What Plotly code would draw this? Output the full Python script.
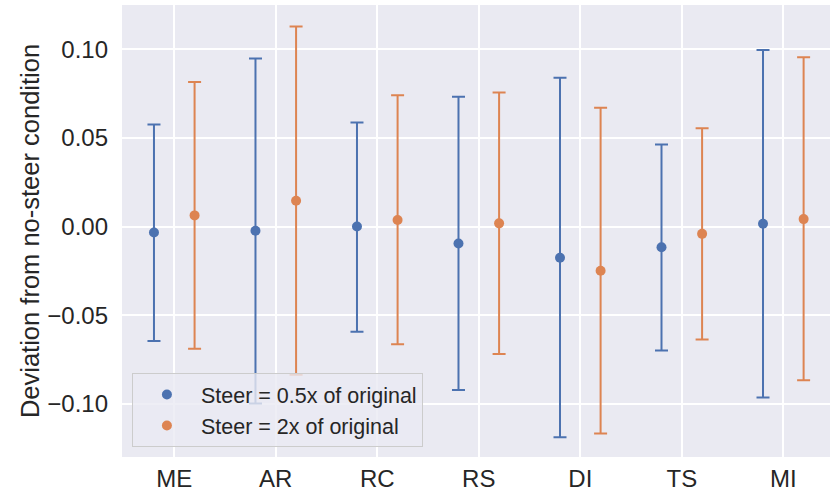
import plotly.graph_objects as go

categories = ["ME", "AR", "RC", "RS", "DI", "TS", "MI"]

half_mean = [-0.0033, -0.0024, 0.0000, -0.0095, -0.0176, -0.0117, 0.0016]
half_hi = [0.0576, 0.0948, 0.0587, 0.0732, 0.0839, 0.0463, 0.0995]
half_lo = [-0.0645, -0.0997, -0.0593, -0.0922, -0.1188, -0.0698, -0.0963]

double_mean = [0.0063, 0.0146, 0.0037, 0.0018, -0.0249, -0.0041, 0.0042]
double_hi = [0.0815, 0.1128, 0.0740, 0.0756, 0.0670, 0.0554, 0.0955]
double_lo = [-0.0689, -0.0835, -0.0664, -0.0719, -0.1166, -0.0636, -0.0867]

series = [
    ("Steer = 0.5x of original", half_mean, half_hi, half_lo, "#4C72B0"),
    ("Steer = 2x of original", double_mean, double_hi, double_lo, "#DD8452"),
]

fig = go.Figure()
for i, (name, mean, hi, lo, color) in enumerate(series):
    fig.add_trace(go.Scatter(
        x=categories, y=mean, name=name, mode="markers",
        offsetgroup=str(i),
        marker=dict(color=color, size=10),
        error_y=dict(
            type="data", symmetric=False,
            array=[h - m for h, m in zip(hi, mean)],
            arrayminus=[m - l for m, l in zip(mean, lo)],
            color=color, thickness=2, width=6.5,
        ),
    ))

fig.update_layout(
    width=830, height=497,
    margin=dict(l=122, r=0, t=5, b=40),
    paper_bgcolor="white",
    plot_bgcolor="#EAEAF2",
    scattermode="group",
    scattergap=0.2,
    font=dict(family="Liberation Sans, Arial, sans-serif", size=24, color="#262626"),
    xaxis=dict(
        type="category", range=[-0.515, 6.46],
        showgrid=True, gridcolor="white", gridwidth=1.5,
        zeroline=False, ticks="", tickfont=dict(size=24),
        ticklabelstandoff=5, automargin=False,
    ),
    yaxis=dict(
        range=[-0.1299, 0.1249],
        tickvals=[-0.10, -0.05, 0.0, 0.05, 0.10],
        ticktext=["−0.10", "−0.05", "0.00", "0.05", "0.10"],
        showgrid=True, gridcolor="white", gridwidth=1.5,
        zeroline=False, ticks="", tickfont=dict(size=24),
        ticklabelstandoff=13, automargin=False,
        title=dict(text="Deviation from no-steer condition", font=dict(size=25.5), standoff=0),
    ),
    legend=dict(
        x=0.014, y=0.022, xanchor="left", yanchor="bottom",
        bgcolor="rgba(234,234,242,0.8)", bordercolor="#CCCCCC", borderwidth=1,
        font=dict(size=21.5, color="#262626"),
        itemwidth=58,
    ),
    showlegend=True,
)

fig.write_html("out.html", config={"displayModeBar": False},
               post_script="document.body.style.margin='0';")
